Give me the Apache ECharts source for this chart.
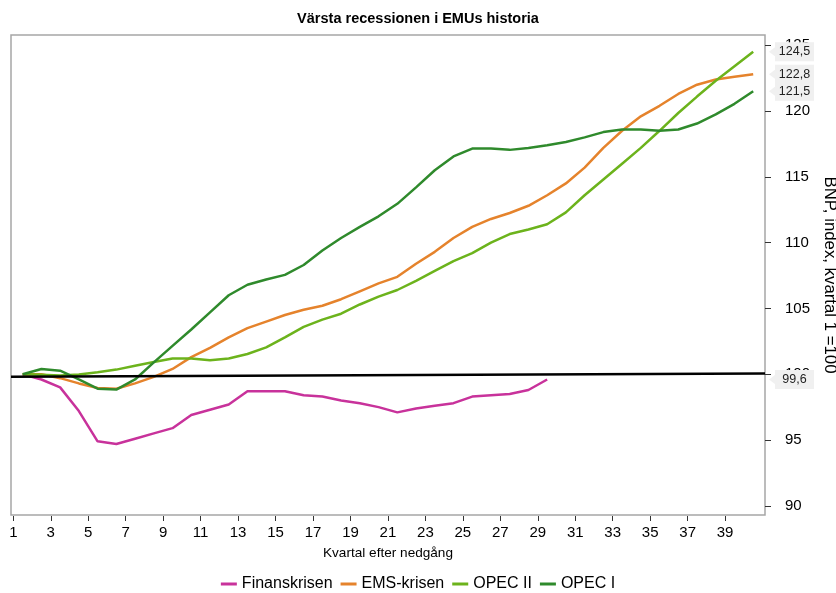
<!DOCTYPE html>
<html>
<head>
<meta charset="utf-8">
<title>Värsta recessionen i EMUs historia</title>
<script src="https://cdn.jsdelivr.net/npm/echarts@6/dist/echarts.min.js"></script>
<style>
    html, body {margin:0; padding:0; background:#fff;}
    #chartmain {width:836px; height:593px;}
</style>
</head>
<body>
<div id="chartmain"></div>
<script>
// kvartal efter nedgång (punkterna ligger mitt i kvartalet)
var quarters = [1,2,3,4,5,6,7,8,9,10,11,12,13,14,15,16,17,18,19,20,
                21,22,23,24,25,26,27,28,29,30,31,32,33,34,35,36,37,38,39,40];
var xTicks = [1,3,5,7,9,11,13,15,17,19,21,23,25,27,29,31,33,35,37,39];
var yTicks = [90,95,100,105,110,115,120,125];

var finans = [100.0,99.6,99.0,97.2,94.9,94.7,95.1,95.5,95.9,96.9,
              97.3,97.7,98.7,98.7,98.7,98.4,98.3,98.0,97.8,97.5,
              97.1,97.4,97.6,97.8,98.3,98.4,98.5,98.8,99.6];
var ems = [100.0,100.0,99.7,99.3,98.95,98.9,99.3,99.8,100.4,101.3,
           102.0,102.8,103.5,104.0,104.5,104.9,105.2,105.7,106.3,106.9,
           107.4,108.4,109.3,110.35,111.2,111.8,112.25,112.8,113.6,114.5,
           115.7,117.2,118.5,119.6,120.4,121.3,122.0,122.4,122.6,122.8];
var opec2 = [100.0,99.95,99.9,99.97,100.15,100.35,100.65,100.93,101.2,101.2,
             101.06,101.19,101.54,102.04,102.8,103.6,104.15,104.6,105.3,105.9,
             106.4,107.1,107.85,108.6,109.2,110.0,110.65,111.0,111.4,112.3,
             113.6,114.8,116.0,117.2,118.5,119.85,121.1,122.3,123.4,124.5];
var opec1 = [100.0,100.4,100.27,99.6,98.9,98.83,99.6,100.9,102.15,103.4,
             104.7,106.0,106.8,107.2,107.55,108.3,109.4,110.35,111.2,112.0,
             112.95,114.2,115.5,116.55,117.15,117.15,117.05,117.2,117.4,117.65,
             118.0,118.4,118.6,118.6,118.5,118.6,119.05,119.75,120.55,121.5];
// svart referenslinje (vänster, höger)
var baseLine = [99.8, 100.05];

var xMin = 0.877, xMax = 41.13;
var fontFam = '"Liberation Sans", Arial, sans-serif';

function toPoints(arr){
    var out = [];
    for(var i=0;i<arr.length;i++){
        out.push([quarters[i] + 0.5, arr[i]]);
    }
    return out;
}

function fmt(v){
    return v.toFixed(1).replace('.', ',');
}

// etikett med sista värdet vid högra axeln
function lastMark(arr){
    var last = arr[arr.length-1];
    return {
        silent: true,
        symbol: 'path://M0,9.5L6,5L6,0L45,0L45,19L6,19L6,14Z',
        symbolSize: [45,19],
        symbolOffset: [26.5,0],
        itemStyle: {color:'#f0f0f0'},
        label: {
            show: true,
            position: 'inside',
            offset: [3,0],
            color: '#222',
            fontSize: 12.5,
            fontFamily: fontFam,
            formatter: function(p){ return fmt(p.value); }
        },
        data: [{coord:[xMax, last], value:last}]
    };
}

function lineSeries(name, arr, color){
    return {
        name: name,
        type: 'line',
        color: color,
        showSymbol: false,
        symbol: 'none',
        lineStyle: {width:2.5, color:color},
        data: toPoints(arr),
        markPoint: lastMark(arr),
        z: 3
    };
}

var option = {
    animation: false,
    backgroundColor: '#fff',
    textStyle: {fontFamily: fontFam},
    title: {
        text: 'Värsta recessionen i EMUs historia',
        left: 'center',
        top: 6,
        textStyle: {fontSize:14.5, fontWeight:'bold', color:'#000', fontFamily:fontFam}
    },
    legend: {
        data: ['Finanskrisen','EMS-krisen','OPEC II','OPEC I'],
        left: 'center',
        top: 571,
        icon: 'rect',
        itemWidth: 16,
        itemHeight: 3,
        itemGap: 8,
        textStyle: {fontSize:16, color:'#000', fontFamily:fontFam}
    },
    grid: {
        show: true,
        left: 11,
        right: 71,
        top: 35,
        bottom: 78,
        outerBoundsMode: 'none',
        containLabel: false,
        borderColor: '#a6a6a6',
        borderWidth: 1.5
    },
    xAxis: {
        type: 'value',
        min: xMin,
        max: xMax,
        offset: 1,
        axisLine: {show:false},
        axisTick: {show:true, length:5, customValues:xTicks, lineStyle:{color:'#333'}},
        axisLabel: {customValues:xTicks, margin:9, fontSize:15, color:'#000'},
        splitLine: {show:false},
        name: 'Kvartal efter nedgång',
        nameLocation: 'middle',
        nameGap: 30,
        nameTextStyle: {fontSize:13.6, color:'#000'}
    },
    yAxis: {
        type: 'value',
        position: 'right',
        min: 89.3,
        max: 125.78,
        axisLine: {show:false},
        axisTick: {show:true, length:6, customValues:yTicks, lineStyle:{color:'#333'}},
        axisLabel: {customValues:yTicks, margin:20, fontSize:15, color:'#000'},
        splitLine: {show:false},
        name: 'BNP, index, kvartal 1 =100',
        nameLocation: 'middle',
        nameRotate: -90,
        nameGap: 47,
        nameTextStyle: {fontSize:16.8, color:'#000'}
    },
    series: [
        lineSeries('Finanskrisen', finans, '#c8329b'),
        lineSeries('EMS-krisen', ems, '#e5832c'),
        lineSeries('OPEC II', opec2, '#6cb31c'),
        lineSeries('OPEC I', opec1, '#2f8a2c'),
        {
            name: 'bas',
            type: 'line',
            showSymbol: false,
            symbol: 'none',
            lineStyle: {width:2.5, color:'#000'},
            data: [[xMin, baseLine[0]], [xMax, baseLine[1]]],
            z: 4
        }
    ]
};

var myChart = echarts.init(document.getElementById('chartmain'));
myChart.setOption(option);
</script>
</body>
</html>
